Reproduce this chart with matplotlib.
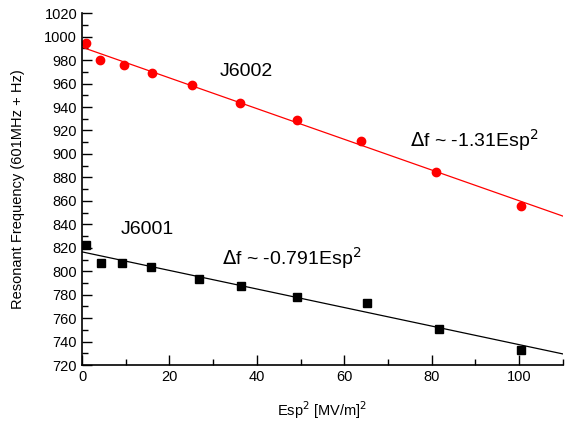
import matplotlib
matplotlib.use('Agg')
import matplotlib.pyplot as plt
from matplotlib.ticker import MultipleLocator

plt.rcParams['font.family'] = ['Liberation Sans', 'DejaVu Sans']

# J6002 (red circles)
x_j6002 = [0.8, 4.0, 9.6, 16.0, 25.2, 36.2, 49.2, 63.8, 81.0, 100.5]
f_j6002 = [995, 980, 976, 969, 959, 943, 929, 911, 885, 856]
# J6001 (black squares)
x_j6001 = [0.9, 4.3, 9.2, 15.8, 26.8, 36.4, 49.2, 65.2, 81.7, 100.4]
f_j6001 = [822, 807, 807, 804, 793, 787, 778, 773, 751, 733]
# linear fits read at the axis ends
fit_x = [0, 110]
fit_j6002 = [991, 847]
fit_j6001 = [816.5, 729.5]

fig = plt.figure(figsize=(5.68, 4.25), dpi=100)
ax = fig.add_axes([0.1444, 0.141, 0.8466, 0.828])

ax.plot(fit_x, fit_j6002, color='red', lw=0.9)
ax.plot(fit_x, fit_j6001, color='black', lw=0.9)
ax.plot(x_j6002, f_j6002, 'o', color='red', ms=6, mec='red')
ax.plot(x_j6001, f_j6001, 's', color='black', ms=5.5)

ax.text(31.5, 970, 'J6002', fontsize=14, va='center')
ax.text(75, 912, r'$\Delta$f ~ -1.31Esp$^2$', fontsize=14, va='center')
ax.text(8.8, 836, 'J6001', fontsize=14, va='center')
ax.text(32, 811, r'$\Delta$f ~ -0.791Esp$^2$', fontsize=14, va='center')

ax.set_xlim(0, 110)
ax.set_ylim(720, 1020)
ax.xaxis.set_major_locator(MultipleLocator(20))
ax.xaxis.set_minor_locator(MultipleLocator(10))
ax.yaxis.set_major_locator(MultipleLocator(20))
ax.yaxis.set_minor_locator(MultipleLocator(10))
ax.tick_params(which='both', direction='in', labelsize=10.5, width=1)
ax.tick_params(which='major', length=7)
ax.tick_params(which='minor', length=4)
for s in ['top', 'right']:
    ax.spines[s].set_visible(False)
for s in ['left', 'bottom']:
    ax.spines[s].set_linewidth(1.2)

ax.set_xlabel(r'Esp$^2$ [MV/m]$^2$', fontsize=10.5, labelpad=11)
ax.set_ylabel('Resonant Frequency (601MHz + Hz)', fontsize=10.5, labelpad=14)

fig.savefig('out.png', dpi=100)
